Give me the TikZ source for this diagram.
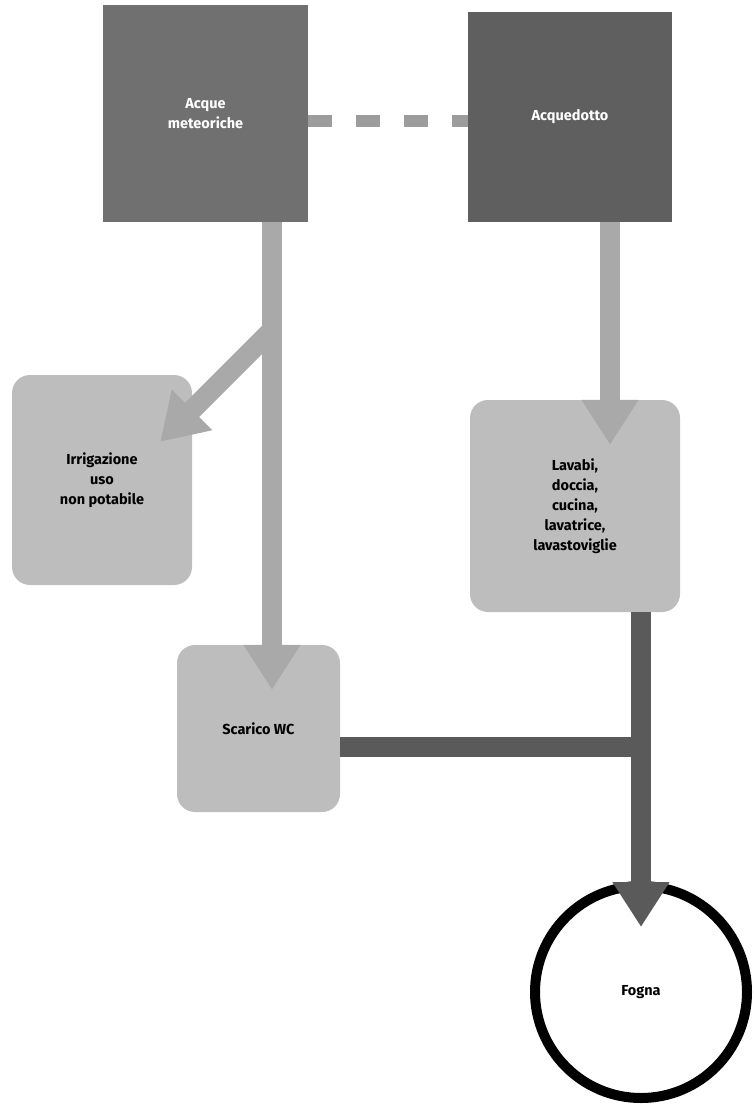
\documentclass[tikz,border=0pt]{standalone}
\usepackage{fontspec}
\setmainfont{Fira Sans}
\usetikzlibrary{arrows.meta}

\definecolor{meteo}{HTML}{707070}
\definecolor{rete}{HTML}{5F5F5F}
\definecolor{utenza}{HTML}{BDBDBD}
\definecolor{chiara}{HTML}{A9A9A9}
\definecolor{scura}{HTML}{5A5A5A}
\definecolor{tratteggio}{HTML}{9C9C9C}

\begin{document}
\begin{tikzpicture}[x=1pt, y=-1pt,
    boxtxt/.style={rectangle, inner sep=0pt, align=center,
        font=\bfseries\fontsize{14.5}{20}\selectfont},
    srcbox/.style={boxtxt, text=white},
    usebox/.style={boxtxt, fill=utenza, rounded corners=18pt},
    flowlight/.style={draw=chiara, line width=20pt, -{Triangle[width=54pt,length=45pt]}},
    flowdark/.style={draw=scura, line width=20pt}]
    \useasboundingbox (0,0) rectangle (753,1107);

    % sorgenti
    \node (acque) [srcbox, fill=meteo, minimum width=205pt, minimum height=217pt] at (205.5,113.5) {Acque\\meteoriche};
    \node (aqd) [srcbox, fill=rete, minimum width=204pt, minimum height=210pt] at (570,117) {Acquedotto};
    \draw [tratteggio, line width=12pt, dash pattern=on 24pt off 24pt] (acque.east |- 0,121) -- (aqd.west |- 0,121);

    % utenze
    \node (irr) [usebox, minimum width=180pt, minimum height=210pt] at (102,480) {Irrigazione\\uso\\non potabile};
    \node (lav) [usebox, minimum width=210pt, minimum height=212pt] at (575,506) {Lavabi,\\doccia,\\cucina,\\lavatrice,\\lavastoviglie};
    \node (wc) [usebox, minimum width=163pt, minimum height=167pt] at (258.5,728.5) {Scarico WC};

    \node (fogna) [circle, draw, line width=10pt, minimum size=212pt, inner sep=0pt,
        font=\bfseries\fontsize{14.5}{20}\selectfont] at (641,992) {Fogna};

    \coordinate (split) at (272,330);

    % acque meteoriche
    \draw [flowlight] ([xshift=66.5pt]acque.south) -- ([xshift=13.5pt,yshift=-45pt]wc.north);
    \draw [flowlight] (split) -- ([xshift=-32pt,yshift=-67pt]irr.north east);

    % acquedotto
    \draw [flowlight] ([xshift=40pt]aqd.south) -- ([xshift=35pt,yshift=-45pt]lav.north);

    % scarichi
    \draw [flowdark] (wc.east |- 0,747) -- (fogna.north |- 0,747);
    \draw [flowdark, -{Triangle[width=54pt,length=45pt]}] (lav.south -| fogna.north) -- ([yshift=-46pt]fogna.north);
\end{tikzpicture}
\end{document}
